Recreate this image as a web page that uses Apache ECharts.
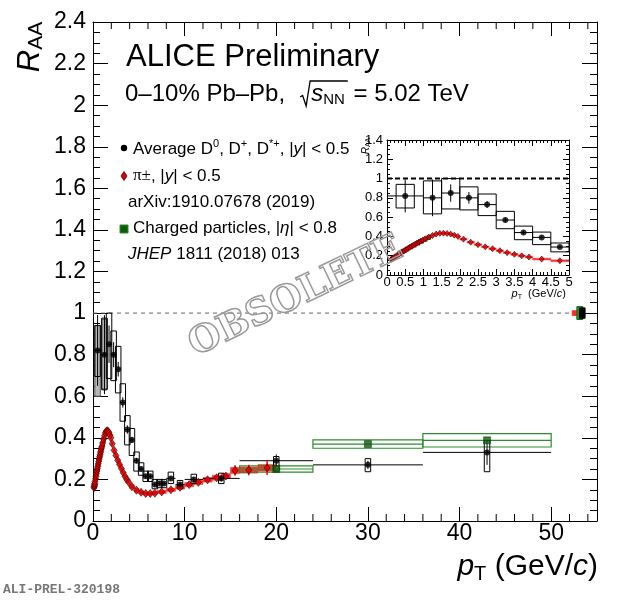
<!DOCTYPE html>
<html><head><meta charset="utf-8">
<script src="https://cdn.jsdelivr.net/npm/echarts@6/dist/echarts.min.js"></script>
<style>html,body{margin:0;padding:0;background:#fff}#c{width:620px;height:600px}</style>
</head><body><div id="c"></div>
<script>
// ---------- DATA ----------
// Average D0, D+, D*+ (bins, values, stat. and syst. uncertainties)
const dLo   = [0,1,1.5,2,2.5,3,3.5,4,4.5,5,5.5,6,6.5,7,7.5,8,9,10,12,16,24,36];
const dHi   = [1,1.5,2,2.5,3,3.5,4,4.5,5,5.5,6,6.5,7,7.5,8,9,10,12,16,24,36,50];
const dPt   = [0.5,1.25,1.75,2.25,2.75,3.25,3.75,4.25,4.75,5.25,5.75,6.25,6.75,7.25,7.75,8.5,9.5,11,14,20,30,43];
const dVal  = [0.82,0.80,0.85,0.80,0.73,0.57,0.44,0.39,0.29,0.25,0.215,0.215,0.175,0.18,0.18,0.205,0.175,0.20,0.205,0.29,0.27,0.33];
const dStat = [0.17,0.19,0.09,0.06,0.035,0.025,0.02,0.015,0.012,0.012,0.01,0.01,0.01,0.01,0.01,0.01,0.012,0.012,0.015,0.03,0.02,0.06];
const dSysLow  = [0.695,0.634,0.685,0.675,0.616,0.48,0.366,0.315,0.24,0.22,0.19,0.19,0.155,0.16,0.16,0.18,0.155,0.18,0.18,0.24,0.237,0.237];
const dSysHigh = [0.94,0.976,1.0,0.914,0.84,0.66,0.507,0.445,0.332,0.28,0.24,0.24,0.20,0.20,0.20,0.235,0.195,0.225,0.23,0.31,0.30,0.387];
const dExtraLow  = [0.60,0.63];   // grey-filled boxes, first two bins
const dExtraHigh = [0.94,0.97];

// Charged pions
const pionEdges = [0.10,0.12,0.14,0.16,0.18,0.20,0.25,0.30,0.35,0.40,0.45,0.50,0.55,0.60,0.65,0.70,0.75,0.80,0.85,0.90,0.95,1.0,
  1.1,1.2,1.3,1.4,1.5,1.6,1.7,1.8,1.9,2.0,2.2,2.4,2.6,2.8,3.0,3.2,3.4,3.6,3.8,4.0,4.5,5.0,5.5,6.0,6.5,7,8,9,10,11,12,13,14,15,16,18,20];
const pionVal = [0.160,0.165,0.170,0.175,0.180,0.190,0.203,0.215,0.228,0.240,0.252,0.263,0.275,0.287,0.298,0.309,0.320,0.331,0.341,0.351,0.360,
  0.375,0.393,0.410,0.424,0.432,0.434,0.431,0.424,0.413,0.400,
  0.372,0.340,0.315,0.292,0.272,0.252,0.232,0.214,0.199,0.186,
  0.165,0.148,0.138,0.132,0.132,0.134,0.140,0.150,0.162,0.175,0.186,0.198,0.208,0.216,0.243,0.245,0.256];
const pionSys = [0.008,0.008,0.008,0.008,0.008,0.008,0.008,0.008,0.008,0.008,0.008,0.008,0.008,0.008,0.008,0.008,0.008,0.008,0.008,0.008,0.008,
  0.008,0.008,0.008,0.008,0.008,0.008,0.008,0.008,0.008,0.008,
  0.009,0.009,0.009,0.009,0.009,0.009,0.009,0.009,0.009,0.009,
  0.009,0.009,0.008,0.008,0.008,0.008,0.008,0.008,0.009,0.01,0.01,0.011,0.012,0.012,0.015,0.015,0.016];
const pionStat = [0.004,0.004,0.004,0.004,0.004,0.004,0.004,0.004,0.004,0.004,0.004,0.004,0.004,0.004,0.004,0.004,0.004,0.004,0.004,0.004,0.004,
  0.005,0.005,0.005,0.005,0.005,0.005,0.005,0.005,0.005,0.005,
  0.006,0.006,0.006,0.006,0.006,0.006,0.006,0.006,0.006,0.006,
  0.006,0.006,0.006,0.006,0.006,0.006,0.006,0.006,0.006,0.007,0.008,0.009,0.01,0.012,0.025,0.025,0.035];

// Charged particles
const chLo = [16,24,36];
const chHi = [24,36,50];
const chVal = [0.25,0.37,0.388];
const chSys = [0.015,0.02,0.032];
const chLowPt  = [0.35,0.45,0.55,0.65,0.75,0.85,0.95,1.05,1.15];
const chLowVal = [0.225,0.248,0.27,0.29,0.31,0.33,0.35,0.37,0.39];

// Normalisation uncertainties at R_AA = 1 (pion, charged, D)
const normLo = [52.3,52.8,53.1];
const normHi = [52.85,53.45,53.7];
const normHalf = [0.011,0.031,0.025];

// ---------- BUILD ----------
const FF = '"Liberation Sans", Arial, Helvetica, sans-serif';
const chart = echarts.init(document.getElementById('c'), null, {renderer:'canvas', width:620, height:600});

function rectItem(fill, stroke, lw){
  return function(params, api){
    const a = api.coord([api.value(0), api.value(3)]);
    const b = api.coord([api.value(1), api.value(2)]);
    return {type:'rect', shape:{x:a[0], y:a[1], width:b[0]-a[0], height:b[1]-a[1]},
      style:{fill:fill, stroke:stroke, lineWidth:lw}};
  };
}
function boxLineItem(stroke, lw){
  return function(params, api){
    const a = api.coord([api.value(0), api.value(3)]);
    const b = api.coord([api.value(1), api.value(2)]);
    const m = api.coord([api.value(0), api.value(4)]);
    return {type:'group', children:[
      {type:'rect', shape:{x:a[0], y:a[1], width:b[0]-a[0], height:b[1]-a[1]}, style:{fill:null, stroke:stroke, lineWidth:lw}},
      {type:'line', shape:{x1:a[0], y1:m[1], x2:b[0], y2:m[1]}, style:{stroke:stroke, lineWidth:lw}}
    ]};
  };
}
function errItem(color, lw){
  return function(params, api){
    const x=api.value(0), xl=api.value(1), xh=api.value(2), y=api.value(3), yl=api.value(4), yh=api.value(5);
    const ch=[];
    if (xh > xl){
      const p1=api.coord([xl,y]), p2=api.coord([xh,y]);
      ch.push({type:'line', shape:{x1:p1[0],y1:p1[1],x2:p2[0],y2:p2[1]}, style:{stroke:color,lineWidth:lw}});
    }
    const p3=api.coord([x,yl]), p4=api.coord([x,yh]);
    ch.push({type:'line', shape:{x1:p3[0],y1:p3[1],x2:p4[0],y2:p4[1]}, style:{stroke:color,lineWidth:lw}});
    return {type:'group', children:ch};
  };
}

const pionLo = pionEdges.slice(0,-1), pionHi = pionEdges.slice(1);
const pionPt = pionLo.map((l,i)=>(l+pionHi[i])/2);

function buildSeries(xi, yi, maxPt, dHalfW, inset){
  const S = [];
  const ok = x => x <= maxPt;
  S.push({type:'line', xAxisIndex:xi, yAxisIndex:yi, silent:true, symbol:'none', z:1,
    data: inset ? [[0,1],[5,1]] : [[0,1],[52,1]],
    lineStyle: inset ? {color:'#000', width:2, type:[5,3]} : {color:'#666', width:1, type:[4,4]}});
  S.push({type:'custom', xAxisIndex:xi, yAxisIndex:yi, silent:true, z:3,
    renderItem: rectItem('rgba(240,20,20,0.85)', 'rgba(255,50,50,1)', 0.5),
    data: pionPt.map((p,i)=>[pionLo[i], pionHi[i], pionVal[i]-pionSys[i], pionVal[i]+pionSys[i]]).filter(r=>ok(r[1]))});
  if (!inset){
    S.push({type:'custom', xAxisIndex:xi, yAxisIndex:yi, silent:true, z:3,
      renderItem: boxLineItem('#2e8b2e', 1.2),
      data: chVal.map((v,i)=>[chLo[i], chHi[i], v-chSys[i], v+chSys[i], v])});
    S.push({type:'custom', xAxisIndex:xi, yAxisIndex:yi, silent:true, z:4,
      renderItem: rectItem('#b8b8b8', '#555', 1),
      data: dExtraLow.map((l,i)=>[dPt[i]-dHalfW, dPt[i]+dHalfW, l, dExtraHigh[i]])});
  }
  S.push({type:'custom', xAxisIndex:xi, yAxisIndex:yi, silent:true, z:5,
    renderItem: rectItem(null, '#000', 1),
    data: dPt.map((p,i)=>[p-dHalfW, p+dHalfW, dSysLow[i], dSysHigh[i]]).filter(r=>ok(r[1]))});
  S.push({type:'custom', xAxisIndex:xi, yAxisIndex:yi, silent:true, z:6,
    renderItem: errItem('#000', 1),
    data: dPt.map((p,i)=>[p, dLo[i], dHi[i], dVal[i], dVal[i]-dStat[i], dVal[i]+dStat[i]]).filter(r=>ok(r[0]))});
  S.push({type:'scatter', xAxisIndex:xi, yAxisIndex:yi, silent:true, z:6, symbol:'rect', symbolSize:4,
    itemStyle:{color:'#0d3d0d', borderColor:'#000', borderWidth:0.5},
    data: chLowPt.map((p,i)=>[p, chLowVal[i]])});
  S.push({type:'custom', xAxisIndex:xi, yAxisIndex:yi, silent:true, z:7,
    renderItem: errItem('#ff0000', 1.5),
    data: pionPt.map((p,i)=>[p, p, p, pionVal[i], pionVal[i]-pionStat[i], pionVal[i]+pionStat[i]]).filter(r=>ok(r[0]))});
  S.push({type:'scatter', xAxisIndex:xi, yAxisIndex:yi, silent:true, z:8, symbol:'diamond',
    symbolSize: inset ? [5,6] : [6,8],
    itemStyle:{color:'#e00000', borderColor:'#4a0000', borderWidth:0.8},
    data: pionPt.map((p,i)=>[p, pionVal[i]]).filter(r=>ok(r[0]))});
  if (!inset){
    S.push({type:'scatter', xAxisIndex:xi, yAxisIndex:yi, silent:true, z:9, symbol:'rect', symbolSize:7,
      itemStyle:{color:'#0b5d0b', borderColor:'#053005', borderWidth:0.6},
      data: chVal.map((v,i)=>[(chLo[i]+chHi[i])/2, v])});
  }
  S.push({type:'scatter', xAxisIndex:xi, yAxisIndex:yi, silent:true, z:10, symbol:'circle',
    symbolSize: 6, itemStyle:{color:'#000'},
    data: dPt.map((p,i)=>[p, dVal[i]]).filter(r=>ok(r[0]))});
  if (!inset){
    const nc = ['#ff2a2a','#2a8a2a','#000'];
    const nb = ['#ff2a2a','#1a6a1a','#000'];
    normLo.forEach((l,i)=>{
      S.push({type:'custom', xAxisIndex:xi, yAxisIndex:yi, silent:true, z:11,
        renderItem: rectItem(nc[i], nb[i], 1),
        data:[[l, normHi[i], 1-normHalf[i], 1+normHalf[i]]]});
    });
  }
  return S;
}

// minor ticks for main x axis (every 2 GeV/c between majors)
const xMinorMain = [];
for (let v = 2; v < 55; v += 2) if (v % 10 !== 0) xMinorMain.push(v);

const series = buildSeries(0, 0, 100, 0.3, false).concat(buildSeries(2, 2, 5.0001, 0.25, true));
series.push({type:'custom', xAxisIndex:0, yAxisIndex:0, silent:true, z:20,
  renderItem: function(params, api){
    const p = api.coord([api.value(0), 0]);
    const cs = params.coordSys;
    return {type:'group', children:[
      {type:'line', shape:{x1:p[0], y1:cs.y+cs.height, x2:p[0], y2:cs.y+cs.height-7}, style:{stroke:'#000', lineWidth:1}},
      {type:'line', shape:{x1:p[0], y1:cs.y, x2:p[0], y2:cs.y+7}, style:{stroke:'#000', lineWidth:1}}
    ]};
  },
  data: xMinorMain.map(v=>[v,0])});

function axisBase(extra){
  return Object.assign({type:'value', splitLine:{show:false},
    axisLine:{show:true, onZero:false, lineStyle:{color:'#000', width:1}}}, extra);
}
const lblMain = {fontFamily:FF, fontSize:23, color:'#000'};
const lblInset = {fontFamily:FF, fontSize:13, color:'#000'};

const option = {
  animation:false,
  backgroundColor:'#fff',
  grid:[
    {left:93, top:22, width:504, height:499, show:false},
    {left:387, top:140, width:182, height:135, show:false}
  ],
  xAxis:[
    axisBase({gridIndex:0, min:0, max:55, interval:10, position:'bottom',
      axisTick:{inside:true, length:14, lineStyle:{color:'#000'}}, minorTick:{show:false},
      axisLabel:Object.assign({margin:1, formatter:v=>(v%10===0?String(v):'')}, lblMain)}),
    axisBase({gridIndex:0, min:0, max:55, interval:10, position:'top',
      axisTick:{inside:true, length:14, lineStyle:{color:'#000'}}, minorTick:{show:false}, axisLabel:{show:false}}),
    axisBase({gridIndex:1, min:0, max:5, interval:0.5, position:'bottom',
      axisTick:{inside:true, length:6, lineStyle:{color:'#000'}},
      minorTick:{show:true, splitNumber:5, length:3, lineStyle:{color:'#000'}},
      axisLabel:Object.assign({margin:1}, lblInset)}),
    axisBase({gridIndex:1, min:0, max:5, interval:0.5, position:'top',
      axisTick:{inside:true, length:6, lineStyle:{color:'#000'}},
      minorTick:{show:true, splitNumber:5, length:3, lineStyle:{color:'#000'}}, axisLabel:{show:false}})
  ],
  yAxis:[
    axisBase({gridIndex:0, min:0, max:2.4, interval:0.2, position:'left',
      axisTick:{inside:true, length:15, lineStyle:{color:'#000'}},
      minorTick:{show:true, splitNumber:4, length:7, lineStyle:{color:'#000'}},
      axisLabel:Object.assign({margin:7}, lblMain)}),
    axisBase({gridIndex:0, min:0, max:2.4, interval:0.2, position:'right',
      axisTick:{inside:true, length:15, lineStyle:{color:'#000'}},
      minorTick:{show:true, splitNumber:4, length:7, lineStyle:{color:'#000'}}, axisLabel:{show:false}}),
    axisBase({gridIndex:1, min:0, max:1.4, interval:0.2, position:'left',
      axisTick:{inside:true, length:6, lineStyle:{color:'#000'}},
      minorTick:{show:true, splitNumber:4, length:3, lineStyle:{color:'#000'}},
      axisLabel:Object.assign({margin:4}, lblInset)}),
    axisBase({gridIndex:1, min:0, max:1.4, interval:0.2, position:'right',
      axisTick:{inside:true, length:6, lineStyle:{color:'#000'}},
      minorTick:{show:true, splitNumber:4, length:3, lineStyle:{color:'#000'}}, axisLabel:{show:false}})
  ],
  series: series
};

// ---------- TEXT ----------
const cv = document.createElement('canvas').getContext('2d');
function tw(s, font){ cv.font = font; return cv.measureText(s).width; }
function T(txt, x, y, font, extra){
  const st = {text:txt, x:x, y:y, font:font, fill:'#000', align:'left', verticalAlign:'middle',
    textAlign:'left', textVerticalAlign:'middle'};
  if (extra) Object.assign(st, extra);
  return {type:'text', z:50, silent:true, style:st};
}
const g = [];
g.push(T('ALICE Preliminary', 126, 57, '31px ' + FF));
const F24 = '24px ' + FF, F24i = 'italic 24px ' + FF, F15 = '15px ' + FF;
let hx = 125; const hy = 94;
g.push(T('0–10% Pb–Pb,', hx, hy, F24));
hx += tw('0–10% Pb–Pb,', F24) + 15;
const rx = hx;
const sW = tw('s', F24i), nW = tw('NN', F15);
g.push({type:'polyline', z:50, silent:true,
  shape:{points:[[rx,97],[rx+2.5,95.5],[rx+6,106],[rx+10,81],[rx+12+sW+nW+2,81]]},
  style:{stroke:'#000', lineWidth:1.3, fill:null}});
hx = rx + 11;
g.push(T('s', hx, hy, F24i));
hx += sW;
g.push(T('NN', hx, hy+6, F15));
hx += nW + 2;
g.push(T(' = 5.02 TeV', hx, hy, F24));

const F17 = '17px ' + FF;
const rich = {
  sup:{fontSize:11, fontFamily:'Liberation Sans', verticalAlign:'top', lineHeight:11},
  it:{fontSize:17, fontFamily:'Liberation Sans', fontStyle:'italic', lineHeight:22},
  pi:{fontSize:17, fontFamily:'Liberation Serif', lineHeight:22}
};
g.push(T('Average D{sup|0}, D{sup|+}, D{sup|*+}, |{it|y}| < 0.5', 133, 149, F17, {rich:rich, lineHeight:22}));
g.push(T('{pi|π±}, |{it|y}| < 0.5', 133, 176, F17, {rich:rich, lineHeight:22}));
g.push(T('arXiv:1910.07678 (2019)', 128, 202, F17));
g.push(T('Charged particles, |{it|η}| < 0.8', 133, 228, F17, {rich:rich, lineHeight:22}));
g.push(T('{it|JHEP} 1811 (2018) 013', 128, 254, F17, {rich:rich, lineHeight:22}));
g.push({type:'circle', z:50, silent:true, shape:{cx:124, cy:148, r:3.2}, style:{fill:'#000'}});
g.push({type:'polygon', z:50, silent:true, shape:{points:[[124,171.5],[127,176],[124,180.5],[121,176]]},
  style:{fill:'#e00000', stroke:'#4a0000', lineWidth:0.8}});
g.push({type:'rect', z:50, silent:true, shape:{x:120, y:225, width:8, height:8},
  style:{fill:'#0b5d0b', stroke:'#2e8b2e', lineWidth:1}});

g.push({type:'text', z:50, silent:true, x:30, y:47, rotation:Math.PI/2,
  style:{text:'{r|R}{s|AA}', x:0, y:0, align:'center', verticalAlign:'middle', textAlign:'center', textVerticalAlign:'middle',
    rich:{r:{fontSize:31, fontFamily:'Liberation Sans', fontStyle:'italic', lineHeight:34},
          s:{fontSize:21, fontFamily:'Liberation Sans', verticalAlign:'bottom', lineHeight:20}}}});
g.push(T('{p|p}{s|T} (GeV/{p|c})', 598, 567, '30px ' + FF, {align:'right', textAlign:'right',
  rich:{p:{fontSize:30, fontFamily:'Liberation Sans', fontStyle:'italic', lineHeight:34},
        s:{fontSize:20, fontFamily:'Liberation Sans', verticalAlign:'bottom', lineHeight:18}}, lineHeight:34}));
g.push({type:'text', z:50, silent:true, x:366, y:146, rotation:Math.PI/2,
  style:{text:'{r|R}{s|AA}', x:0, y:0, align:'center', verticalAlign:'middle', textAlign:'center', textVerticalAlign:'middle',
    rich:{r:{fontSize:10, fontFamily:'Liberation Sans', fontStyle:'italic', lineHeight:11},
          s:{fontSize:7, fontFamily:'Liberation Sans', verticalAlign:'bottom', lineHeight:7}}}});
g.push(T('{p|p}{s|T}  (GeV/{p|c})', 566, 294, '11px ' + FF, {align:'right', textAlign:'right',
  rich:{p:{fontSize:11, fontFamily:'Liberation Sans', fontStyle:'italic', lineHeight:13},
        s:{fontSize:7, fontFamily:'Liberation Sans', verticalAlign:'bottom', lineHeight:7}}, lineHeight:13}));
g.push(T('ALI-PREL-320198', 3, 590, 'bold 13px "Liberation Mono", monospace', {fill:'#777'}));
g.push({type:'text', z:100, silent:true, x:296, y:297, rotation:0.45,
  style:{text:'OBSOLETE', x:0, y:0, font:'bold 37px "DejaVu Serif", serif', align:'center', verticalAlign:'middle',
    textAlign:'center', textVerticalAlign:'middle', fill:'rgba(0,0,0,0)', stroke:'#9a9a9a', lineWidth:1.5}});

option.graphic = {elements: g};
chart.setOption(option);
</script>
</body></html>
